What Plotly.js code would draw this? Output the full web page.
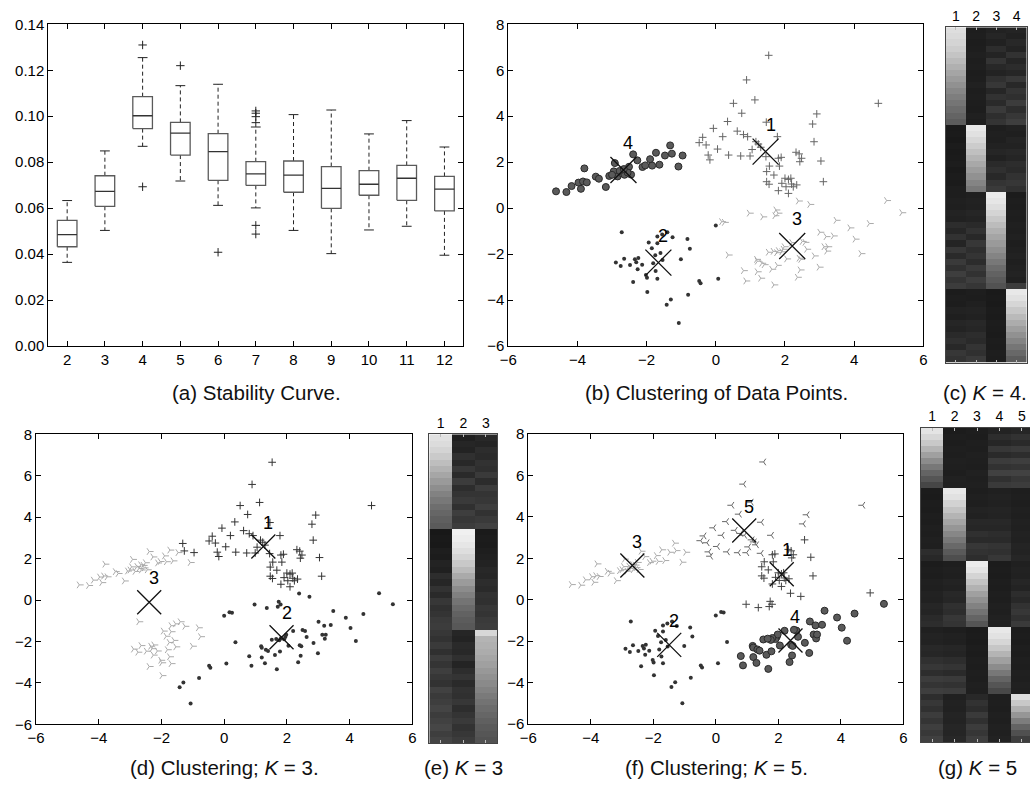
<!DOCTYPE html>
<html><head><meta charset="utf-8">
<script src="https://cdn.plot.ly/plotly-3.0.1.min.js"></script>
<style>html,body{margin:0;padding:0;background:#fff}#chart{width:1030px;height:785px}</style>
</head><body><div id="chart"></div>
<script>
// ---------- (a) stability curve (box statistics) ----------
const boxK      = [2,3,4,5,6,7,8,9,10,11,12];
const boxUpper  = [0.0633,0.0849,0.1255,0.1133,0.1139,0.0953,0.1007,0.1027,0.0923,0.0981,0.0866];
const boxQ3     = [0.0547,0.0741,0.1085,0.0973,0.0924,0.0802,0.0805,0.0781,0.0763,0.0786,0.0738];
const boxMedian = [0.0485,0.0673,0.1002,0.0926,0.0846,0.0749,0.0744,0.0686,0.0704,0.0730,0.0683];
const boxQ1     = [0.0432,0.0608,0.0946,0.0831,0.0721,0.0699,0.0669,0.0599,0.0656,0.0634,0.0588];
const boxLower  = [0.0364,0.0503,0.0869,0.0718,0.0612,0.0601,0.0503,0.0402,0.0505,0.0521,0.0395];
const outK      = [4,4,5,6,7,7,7,7,7,7];
const outVal    = [0.131,0.0693,0.122,0.0408,0.1023,0.1013,0.0998,0.0972,0.0525,0.0487];

// ---------- data points (same points in b, d, f) ----------
const ptX = [
 -4.62,-4.32,-4.17,-3.97,-3.90,-3.84,-3.73,-3.80,-3.47,-3.38,-3.18,-3.08,-2.95,-2.92,-2.84,-2.72,-2.64,-2.58,-2.51,-2.45,
 -2.39,-2.27,-2.12,-2.04,-1.90,-1.84,-1.73,-1.63,-1.47,-1.32,-1.27,-1.08,-0.96,-2.78,-2.55,-2.66,-3.00,
 -2.72,-1.69,-1.55,-1.40,-1.25,-0.82,0.00,-1.94,-1.69,-0.75,-2.89,-2.75,-2.65,-2.48,-2.34,-2.30,-2.24,-2.26,-2.13,
 -2.02,-1.99,-1.81,-1.74,-1.69,-1.54,-2.39,-1.98,-1.01,-0.80,-0.48,-0.44,0.07,-1.30,-1.42,-1.07,-1.85,-1.60,-1.75,
 1.53,0.89,0.51,1.13,0.75,2.92,4.70,0.34,2.80,1.46,0.62,0.20,-0.07,-0.38,-0.48,-0.28,-0.22,-0.17,0.05,0.92,
 1.78,1.16,1.23,1.30,2.84,0.37,0.72,0.99,1.45,1.81,1.89,2.32,2.41,2.48,2.43,3.04,1.55,1.47,1.68,1.84,
 1.47,1.54,1.91,2.00,2.10,2.17,2.03,2.19,2.34,2.24,1.81,2.10,3.11,1.05,0.80,
 0.17,0.25,0.97,1.36,1.74,1.80,1.71,2.39,2.72,4.94,5.38,3.48,4.44,3.88,4.03,4.20,3.01,3.19,3.40,3.13,
 3.21,3.24,2.58,2.50,2.63,2.85,2.99,2.41,2.46,2.44,2.36,2.05,1.95,1.91,1.98,1.81,1.76,1.52,1.66,1.18,
 1.20,1.33,1.40,1.62,1.78,0.80,1.20,1.30,0.87,1.68,0.36,2.20
];
const ptY = [
 0.73,0.70,0.96,1.11,0.84,1.16,1.12,1.73,1.37,1.28,0.92,1.40,1.60,1.96,1.38,1.52,1.45,1.67,1.80,1.46,
 2.34,2.08,1.79,1.86,2.13,1.85,2.41,1.89,2.29,2.73,2.37,1.81,2.29,1.62,1.55,1.70,1.45,
 -1.05,-1.24,-1.15,-1.05,-1.27,-1.34,-0.76,-1.50,-1.53,-1.77,-2.37,-2.52,-2.20,-2.47,-2.23,-2.35,-2.17,-2.66,-2.46,
 -2.91,-3.03,-2.40,-2.74,-3.07,-2.26,-3.21,-3.65,-2.23,-3.77,-3.17,-3.27,-3.07,-3.98,-4.21,-5.00,-1.75,-1.95,-2.05,
 6.65,5.58,4.56,4.71,4.13,4.10,4.56,3.77,3.66,3.74,3.35,3.11,3.47,3.08,2.85,2.75,2.31,2.10,2.57,3.11,
 3.11,2.89,2.79,2.65,2.89,2.31,2.27,2.27,2.24,2.17,2.21,2.43,2.36,2.17,2.02,2.05,1.83,1.59,1.44,1.83,
 1.15,1.04,1.08,1.30,1.25,1.30,0.93,1.05,1.01,0.93,0.76,0.64,1.15,2.55,3.20,
 -0.59,-0.62,-0.22,-0.38,-0.08,-0.22,-0.33,0.31,0.16,0.33,-0.20,-0.53,-0.67,-0.86,-1.35,-1.98,-1.05,-1.24,-1.21,-1.68,
 -1.87,-1.68,-1.49,-1.45,-1.79,-2.08,-2.57,-2.18,-2.23,-2.69,-3.01,-2.21,-1.79,-1.90,-1.68,-1.85,-1.94,-1.92,-1.88,-2.23,
 -2.31,-2.40,-2.46,-2.66,-2.49,-2.72,-2.77,-3.05,-3.17,-3.34,-2.04,-1.50
];
const labK4 = [
 4,4,4,4,4,4,4,4,4,4,4,4,4,4,4,4,4,4,4,4, 4,4,4,4,4,4,4,4,4,4,4,4,4,4,4,4,4,
 2,2,2,2,2,2,2,2,2,2,2,2,2,2,2,2,2,2,2, 2,2,2,2,2,2,2,2,2,2,2,2,2,2,2,2,2,2,2,
 1,1,1,1,1,1,1,1,1,1,1,1,1,1,1,1,1,1,1,1, 1,1,1,1,1,1,1,1,1,1,1,1,1,1,1,1,1,1,1,1, 1,1,1,1,1,1,1,1,1,1,1,1,1,1,1,
 3,3,3,3,3,3,3,3,3,3,3,3,3,3,3,3,3,3,3,3, 3,3,3,3,3,3,3,3,3,3,3,3,3,3,3,3,3,3,3,3, 3,3,3,3,3,3,3,3,3,3,3,3
];
const labK3 = [
 3,3,3,3,3,3,3,3,3,3,3,3,3,3,3,3,3,3,3,3, 3,3,3,3,3,3,3,3,3,1,1,3,1,3,3,3,3,
 3,3,3,3,3,3,2,3,3,3,3,3,3,3,3,3,3,3,3, 3,3,3,3,3,3,3,3,3,2,2,2,2,2,2,2,3,3,3,
 1,1,1,1,1,1,1,1,1,1,1,1,1,1,1,1,1,1,1,1, 1,1,1,1,1,1,1,1,1,1,1,1,1,1,1,1,1,1,1,1, 1,1,1,1,1,1,1,1,1,1,1,1,1,1,1,
 2,2,2,2,2,2,2,2,2,2,2,2,2,2,2,2,2,2,2,2, 2,2,2,2,2,2,2,2,2,2,2,2,2,2,2,2,2,2,2,2, 2,2,2,2,2,2,2,2,2,2,2,2
];
const labK5 = [
 3,3,3,3,3,3,3,3,3,3,3,3,3,3,3,3,3,3,3,3, 3,3,3,3,3,3,3,3,3,3,3,3,3,3,3,3,3,
 2,2,2,2,2,2,2,2,2,2,2,2,2,2,2,2,2,2,2, 2,2,2,2,2,2,2,2,2,2,2,2,2,2,2,2,2,2,2,
 5,5,5,5,5,5,5,5,5,5,5,5,5,5,5,5,5,5,5,5, 5,5,5,5,1,5,5,5,5,1,1,1,1,1,1,1,1,1,1,1, 1,1,1,1,1,1,1,1,1,1,1,1,1,5,5,
 2,2,1,1,1,1,1,1,1,1,4,4,4,4,4,4,4,4,4,4, 4,4,4,4,4,4,4,4,4,4,4,4,4,4,4,4,4,4,4,4, 4,4,4,4,4,4,4,4,4,4,2,4
];
// cluster centres
const cenK4X = [1.44,-1.66,2.21,-2.67], cenK4Y = [2.46,-2.37,-1.65,1.66];
const cenK3X = [1.25,1.83,-2.39],       cenK3Y = [2.58,-1.80,-0.11];
const cenK5X = [2.11,-1.49,-2.67,2.39,0.91], cenK5Y = [1.23,-2.18,1.65,-1.97,3.34];

// ---------- membership matrices (grey level 0-255, rows top->bottom) ----------
const cCol1 = [222,218,212,205,196,186,176,165,155,145,135,126,117,108,100,92, 26,27,25,28,26,27,29,26,28,27,30, 30,32,31,35,33,45,38,50,36,55,42,58,48,62,52,60, 28,30,29,34,31,38,35,42,48,40,55,50];
const cCol2 = [30,31,29,30,32,30,31,29,30,33,30,31,30,29,32,30, 232,225,215,204,192,180,168,156,145,132,120, 32,34,33,38,35,42,50,40,55,46,52,44,58,50,62,54, 30,29,32,35,33,40,38,45,42,52,48,58];
const cCol3 = [34,38,33,45,36,52,40,35,48,55,38,50,42,58,46,52, 30,32,31,34,38,33,42,48,40,52,58, 236,230,222,212,200,188,176,165,154,143,132,120,108,98,90,82, 26,27,26,28,27,29,28,27,29,28,30,29];
const cCol4 = [36,33,40,35,50,37,44,38,56,40,52,47,60,45,55,62, 33,31,36,34,40,37,45,42,50,55,48, 28,30,29,31,30,32,31,33,30,32,34,31,33,35,32,60, 232,225,214,200,186,172,158,145,132,118,104,92];

const eCol1 = [225,220,212,202,190,178,166,154,142,130,120,110,102,95,90, 24,26,25,30,28,35,32,45,38,50,42,55,48,52,58,60, 55,50,58,48,60,52,62,55,50,65,58,62,68,60,65,70,62,68];
const eCol2 = [32,38,35,48,40,55,42,60,45,52,58,48,62,55,60, 240,236,230,222,212,200,186,170,155,140,128,116,106,98,92,88, 38,35,42,40,48,36,45,52,42,50,48,55,45,52,58,50,55,60];
const eCol3 = [40,36,45,42,50,47,58,44,60,52,55,62,50,58,65, 26,28,27,30,32,35,40,38,45,42,50,48,55,52,58,60, 215,180,176,172,166,160,152,145,138,130,122,115,108,102,96,90,86,82];

const gCol1 = [228,215,200,180,160,140,120,100,85,70, 28,27,29,28,30,29,31,30,32,31,45,40, 28,30,29,32,31,34,33,38,36,42,45, 32,35,34,40,38,48,55,45,60,52,62, 45,55,48,60,52,62,56,64];
const gCol2 = [28,30,29,31,30,32,31,30,33,32, 232,225,210,195,180,165,150,135,120,105,90,78, 30,32,31,35,33,40,38,48,45,55,52, 30,33,32,38,36,45,52,42,58,50,60, 32,34,33,36,35,38,37,40];
const gCol3 = [30,29,31,30,32,31,30,33,31,32, 30,32,31,35,33,40,38,48,42,55,50,45, 236,228,212,195,178,160,145,130,115,100,85, 27,28,27,29,28,30,29,31,30,32,31, 40,50,44,58,48,60,54,62];
const gCol4 = [35,45,38,55,42,60,50,65,48,58, 32,34,33,36,35,40,38,45,42,52,48,55, 28,29,28,30,29,31,30,32,31,33,32, 232,226,214,198,180,160,140,120,100,85,72, 30,31,30,32,31,33,32,34];
const gCol5 = [38,50,42,58,45,62,52,66,55,60, 30,31,30,32,31,33,32,34,33,36,35,38, 32,34,33,38,35,45,40,50,55,48,58, 28,29,28,30,29,31,30,32,31,33,32, 222,200,175,150,125,100,80,62];

// ---------- helpers ----------
const FONT = 'Liberation Sans, Arial, Helvetica, sans-serif';
const W = 1030, H = 785;
const fx = p => p / W, fy = p => 1 - p / H;
const traces = [];

// box plot pieces
(function(){
  const hw = 0.26, cw = 0.13;
  const bx=[], by=[], mx=[], my=[], wx=[], wy=[], cx=[], cy=[];
  boxK.forEach((k,i)=>{
    bx.push(k-hw,k+hw,k+hw,k-hw,k-hw,null); by.push(boxQ1[i],boxQ1[i],boxQ3[i],boxQ3[i],boxQ1[i],null);
    mx.push(k-hw,k+hw,null); my.push(boxMedian[i],boxMedian[i],null);
    wx.push(k,k,null,k,k,null); wy.push(boxQ3[i],boxUpper[i],null,boxQ1[i],boxLower[i],null);
    cx.push(k-cw,k+cw,null,k-cw,k+cw,null); cy.push(boxUpper[i],boxUpper[i],null,boxLower[i],boxLower[i],null);
  });
  traces.push({type:'scatter',mode:'lines',x:wx,y:wy,xaxis:'x',yaxis:'y',line:{color:'#222',width:1,dash:'4px,3px'},hoverinfo:'skip'});
  traces.push({type:'scatter',mode:'lines',x:cx,y:cy,xaxis:'x',yaxis:'y',line:{color:'#222',width:1},hoverinfo:'skip'});
  traces.push({type:'scatter',mode:'lines',x:bx,y:by,xaxis:'x',yaxis:'y',line:{color:'#5a5a5a',width:1.3},hoverinfo:'skip'});
  traces.push({type:'scatter',mode:'lines',x:mx,y:my,xaxis:'x',yaxis:'y',line:{color:'#333',width:1.3},hoverinfo:'skip'});
  traces.push({type:'scatter',mode:'markers',x:outK,y:outVal,xaxis:'x',yaxis:'y',
    marker:{symbol:'cross-thin-open',size:6,color:'#222',line:{color:'#222',width:1}}});
})();

function clusterTraces(xa, ya, labels, styles){
  Object.keys(styles).forEach(key=>{
    const id = +key, s = styles[key];
    const xs=[], ys=[];
    labels.forEach((l,i)=>{ if(l===id){ xs.push(ptX[i]); ys.push(ptY[i]); } });
    traces.push({type:'scatter',mode:'markers',x:xs,y:ys,xaxis:xa,yaxis:ya,
      marker:{symbol:s.symbol,size:s.size,color:s.color,line:{color:s.line||s.color,width:s.lw===undefined?1:s.lw}}});
  });
}
function centreTrace(xa, ya, cx, cy, size){
  traces.push({type:'scatter',mode:'markers',x:cx,y:cy,xaxis:xa,yaxis:ya,
    marker:{symbol:'x-thin-open',size:size,color:'#111',line:{color:'#111',width:1.3}}});
}
const PLUS = (c)=>({symbol:'cross-thin-open',size:5.5,color:c});
const DOT  = {symbol:'circle',size:4,color:'#333',lw:0};
const BIG  = {symbol:'circle',size:7,color:'#5a5a5a',line:'#2a2a2a',lw:1};
const TRIR = (c)=>({symbol:'y-right-open',size:5.5,color:c});
const TRIL = (c)=>({symbol:'y-left-open',size:5.5,color:c});

clusterTraces('x2','y2',labK4,{3:TRIR('#aaa'),1:PLUS('#666'),2:DOT,4:BIG});
centreTrace('x2','y2',cenK4X,cenK4Y,26);
clusterTraces('x4','y4',labK3,{3:TRIR('#aaa'),1:PLUS('#333'),2:DOT});
centreTrace('x4','y4',cenK3X,cenK3Y,24);
clusterTraces('x6','y6',labK5,{3:TRIR('#aaa'),5:TRIL('#666'),1:PLUS('#444'),2:DOT,4:BIG});
centreTrace('x6','y6',cenK5X,cenK5Y,24);

function buildZ(cols){ const z=[]; for(let r=0;r<cols[0].length;r++) z.push(cols.map(c=>c[r])); return z; }
function heat(xa, ya, cols){
  const z = buildZ(cols);
  traces.push({type:'heatmap',z:z,x:cols.map((c,i)=>i+1),y:z.map((r,i)=>i),xaxis:xa,yaxis:ya,
    zmin:0,zmax:255,colorscale:[[0,'rgb(0,0,0)'],[1,'rgb(255,255,255)']],showscale:false,hoverinfo:'skip'});
  return z.length;
}
const nC = heat('x3','y3',[cCol1,cCol2,cCol3,cCol4]);
const nE = heat('x5','y5',[eCol1,eCol2,eCol3]);
const nG = heat('x7','y7',[gCol1,gCol2,gCol3,gCol4,gCol5]);

// ---------- axes ----------
const tf = {family:FONT,size:15,color:'#000'};
function sAx(o){ return Object.assign({showline:true,linecolor:'#000',linewidth:1,mirror:'ticks',ticks:'inside',ticklen:5,
  tickcolor:'#000',tickwidth:1,showgrid:false,zeroline:false,tickfont:tf},o); }
function hX(o){ return Object.assign({side:'top',showline:true,linecolor:'#444',linewidth:1,mirror:'ticks',ticks:'inside',ticklen:3,
  tickcolor:'#bbb',showgrid:false,zeroline:false,tickfont:{family:FONT,size:14,color:'#000'}},o); }
function hY(o){ return Object.assign({showline:true,linecolor:'#444',linewidth:1,mirror:true,showticklabels:false,ticks:'',
  showgrid:false,zeroline:false},o); }

const layout = {
  width:W,height:H,margin:{l:0,r:0,t:0,b:0},paper_bgcolor:'#fff',plot_bgcolor:'#fff',showlegend:false,
  font:{family:FONT,size:15,color:'#000'},
  xaxis: sAx({domain:[fx(48.3),fx(463.3)],range:[1.5,12.5],tickvals:boxK,anchor:'y'}),
  yaxis: sAx({domain:[fy(346),fy(24.3)],range:[0,0.14],dtick:0.02,tickformat:'.2f',anchor:'x'}),
  xaxis2: sAx({domain:[fx(508.3),fx(923.3)],range:[-6,6],dtick:2,anchor:'y2'}),
  yaxis2: sAx({domain:[fy(346),fy(24.3)],range:[-6,8],dtick:2,anchor:'x2'}),
  xaxis3: hX({domain:[fx(945.7),fx(1026.7)],range:[0.5,4.5],tickvals:[1,2,3,4],anchor:'y3'}),
  yaxis3: hY({domain:[fy(362.7),fy(27.3)],range:[nC-0.5,-0.5],anchor:'x3'}),
  xaxis4: sAx({domain:[fx(36),fx(412.3)],range:[-6,6],dtick:2,anchor:'y4'}),
  yaxis4: sAx({domain:[fy(724.3),fy(434.3)],range:[-6,8],dtick:2,anchor:'x4'}),
  xaxis5: hX({domain:[fx(429.3),fx(497.3)],range:[0.5,3.5],tickvals:[1,2,3],anchor:'y5'}),
  yaxis5: hY({domain:[fy(743.3),fy(434.3)],range:[nE-0.5,-0.5],anchor:'x5'}),
  xaxis6: sAx({domain:[fx(528.3),fx(903.3)],range:[-6,6],dtick:2,anchor:'y6'}),
  yaxis6: sAx({domain:[fy(724),fy(434)],range:[-6,8],dtick:2,anchor:'x6'}),
  xaxis7: hX({domain:[fx(921),1],range:[0.5,5.366],tickvals:[1,2,3,4,5],anchor:'y7'}),
  yaxis7: hY({domain:[fy(742),fy(428)],range:[nG-0.5,-0.5],anchor:'x7',mirror:false}),
  annotations:[]
};

function centreLabels(xr, yr, cx, cy, ys){
  cx.forEach((x,i)=>layout.annotations.push({xref:xr,yref:yr,x:x,y:cy[i],text:String(i+1),showarrow:false,
    xshift:5,yshift:ys,font:{family:FONT,size:18,color:'#000'}}));
}
centreLabels('x2','y2',cenK4X,cenK4Y,27);
centreLabels('x4','y4',cenK3X,cenK3Y,24);
centreLabels('x6','y6',cenK5X,cenK5Y,24);

const captions = [
  ['(a) Stability Curve.',256,392],['(b) Clustering of Data Points.',716,392],['(c) <i>K</i> = 4.',985,392],
  ['(d) Clustering; <i>K</i> = 3.',224,767],['(e) <i>K</i> = 3',463,767],['(f) Clustering; <i>K</i> = 5.',716,767],['(g) <i>K</i> = 5',977,767]
];
captions.forEach(c=>layout.annotations.push({xref:'paper',yref:'paper',x:fx(c[1]),y:fy(c[2]),xanchor:'center',yanchor:'middle',
  text:c[0],showarrow:false,font:{family:FONT,size:20.5,color:'#111'}}));

Plotly.newPlot('chart',traces,layout,{staticPlot:true,displayModeBar:false});
</script></body></html>
